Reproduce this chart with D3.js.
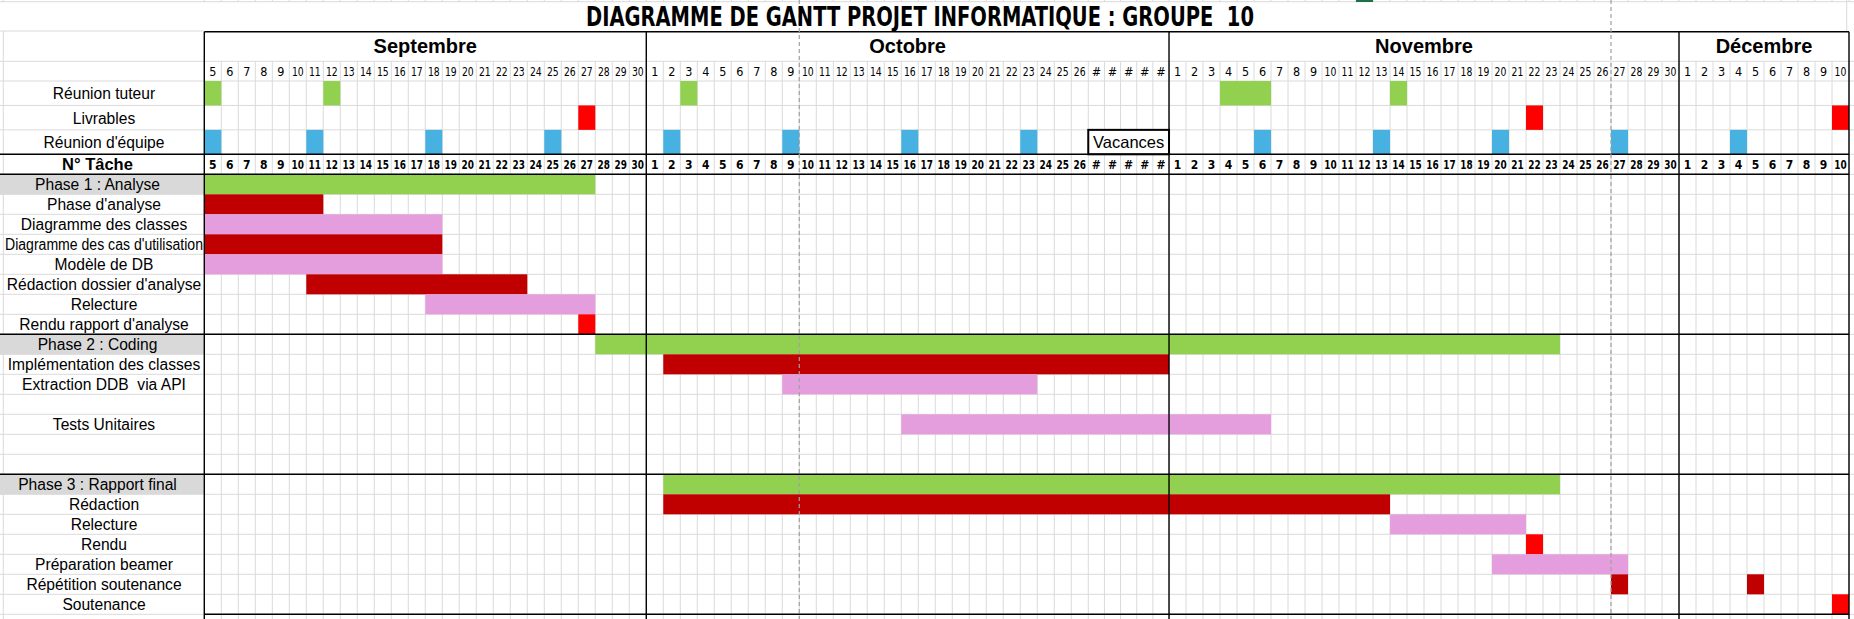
<!DOCTYPE html>
<html><head><meta charset="utf-8">
<script src="https://cdn.jsdelivr.net/npm/d3@7"></script>
<style>
html,body{margin:0;padding:0;background:#fff;overflow:hidden}
svg{display:block}
text{white-space:pre}
</style></head><body>
<svg id="chart" width="1854" height="619"></svg>
<script>
// ================= DATA =================
const title = "DIAGRAMME DE GANTT PROJET INFORMATIQUE : GROUPE  10";
const months = ["Septembre", "Octobre", "Novembre", "Décembre"];
const monthFirstDay = [5, 1, 1, 1];
const monthLastDay = [30, 31, 30, 10];
// days whose column is too narrow: Excel shows "#"
const hashDays = ["Octobre-27", "Octobre-28", "Octobre-29", "Octobre-30", "Octobre-31"];
const pageBreaks = ["Octobre-10", "Novembre-27"];

const eventRows = ["Réunion tuteur", "Livrables", "Réunion d'équipe"];
const reunionTuteur = ["Septembre-5", "Septembre-12", "Octobre-3", "Novembre-4", "Novembre-5", "Novembre-6", "Novembre-14"];
const livrables = ["Septembre-27", "Novembre-22", "Décembre-10"];
const reunionEquipe = ["Septembre-5", "Septembre-11", "Septembre-18", "Septembre-25", "Octobre-2", "Octobre-9",
  "Octobre-16", "Octobre-23", "Novembre-6", "Novembre-13", "Novembre-20", "Novembre-27", "Décembre-4"];
const vacancesLabel = "Vacances";
const vacancesSpan = ["Octobre-27", "Octobre-31"];

const taskHeader = "N° Tâche";
const taskLabels = ["Phase 1 : Analyse", "Phase d'analyse", "Diagramme des classes", "Diagramme des cas d'utilisation",
  "Modèle de DB", "Rédaction dossier d'analyse", "Relecture", "Rendu rapport d'analyse",
  "Phase 2 : Coding", "Implémentation des classes", "Extraction DDB  via API", "", "Tests Unitaires", "", "",
  "Phase 3 : Rapport final", "Rédaction", "Relecture", "Rendu", "Préparation beamer", "Répétition soutenance", "Soutenance"];
const phaseRows = [0, 8, 15];

const barRow   = [0, 1, 2, 3, 4, 5, 6, 7, 8, 9, 10, 12, 15, 16, 17, 18, 19, 20, 20, 21];
const barStart = ["Septembre-5", "Septembre-5", "Septembre-5", "Septembre-5", "Septembre-5", "Septembre-11",
  "Septembre-18", "Septembre-27", "Septembre-28", "Octobre-2", "Octobre-9", "Octobre-16", "Octobre-2", "Octobre-2",
  "Novembre-14", "Novembre-22", "Novembre-20", "Novembre-27", "Décembre-5", "Décembre-10"];
const barEnd   = ["Septembre-27", "Septembre-11", "Septembre-18", "Septembre-18", "Septembre-18", "Septembre-23",
  "Septembre-27", "Septembre-27", "Novembre-23", "Octobre-31", "Octobre-23", "Novembre-6", "Novembre-23", "Novembre-13",
  "Novembre-21", "Novembre-22", "Novembre-27", "Novembre-27", "Décembre-5", "Décembre-10"];
const barKind  = ["phase", "work", "review", "work", "review", "work", "review", "deadline", "phase", "work", "review",
  "review", "phase", "work", "review", "deadline", "review", "work", "work", "deadline"];

// ================= STYLE / LAYOUT =================
const W = 1854, H = 619;
const colors = { phase: "#92D050", work: "#C00000", review: "#E49EDD", deadline: "#FF0000",
  tuteur: "#92D050", livrable: "#FF0000", equipe: "#47B1E2" };
const GRID = "#DADADA";
const SANS = "'Liberation Sans', Arial, sans-serif";
const NARROW = "'Liberation Sans Narrow', 'Arial Narrow', 'DejaVu Sans Condensed', sans-serif";

const X0 = 204.3, X1 = 1849, LABEL_L = 3.3;
const yTop = 1.7, yTitleB = 31.7, yMonthB = 61.3, yDayB = 81, yEventB = 154.3, yHeadB = 174.3, yBottom = 614.3;

// day keys
const dayKeys = [], dayNum = [], dayMonth = [];
months.forEach((m, i) => {
  for (let d = monthFirstDay[i]; d <= monthLastDay[i]; d++) { dayKeys.push(m + "-" + d); dayNum.push(d); dayMonth.push(m); }
});
const units = dayKeys.map(k => hashDays.includes(k) ? 0.95 : 1);
const cum = d3.cumsum(units);
const xs = d3.scaleLinear().domain([0, cum[cum.length - 1]]).range([X0, X1]);
const idx = new Map(dayKeys.map((k, i) => [k, i]));
const left = k => xs(cum[idx.get(k)] - units[idx.get(k)]);
const right = k => xs(cum[idx.get(k)]);

const yEv = d3.scaleBand().domain(eventRows).range([yDayB, yEventB]);
const yTask = d3.scaleBand().domain(d3.range(taskLabels.length)).range([yHeadB, yBottom]);

const svg = d3.select("#chart");
svg.append("rect").attr("width", W).attr("height", H).attr("fill", "#fff");

// phase label backgrounds
svg.append("g").selectAll("rect").data(phaseRows).join("rect")
  .attr("x", 0).attr("width", X0).attr("y", r => yTask(r)).attr("height", yTask.bandwidth())
  .attr("fill", "#D9D9D9");

// ---------- grid ----------
const grid = svg.append("g").attr("stroke", GRID).attr("stroke-width", 1).attr("fill", "none");
const colEdges = dayKeys.map(left).concat([X1]);
colEdges.forEach(x => {
  grid.append("line").attr("x1", x).attr("x2", x).attr("y1", yMonthB).attr("y2", H);
  grid.append("line").attr("x1", x).attr("x2", x).attr("y1", 0).attr("y2", yTop);
});
grid.append("line").attr("x1", LABEL_L).attr("x2", LABEL_L).attr("y1", 31).attr("y2", H);
grid.append("line").attr("x1", LABEL_L).attr("x2", LABEL_L).attr("y1", 0).attr("y2", yTop);
grid.append("line").attr("x1", 1846.7).attr("x2", 1846.7).attr("y1", 0).attr("y2", yTitleB);
const hLines = [yTop, yMonthB, yDayB]
  .concat(eventRows.map(e => yEv(e) + yEv.bandwidth()))
  .concat([yHeadB])
  .concat(d3.range(taskLabels.length).map(r => yTask(r) + yTask.bandwidth()));
hLines.forEach(y => grid.append("line").attr("x1", 0).attr("x2", W).attr("y1", y).attr("y2", y));
grid.append("line").attr("x1", 0).attr("x2", X0).attr("y1", 31).attr("y2", 31);

// excel active-column marker
svg.append("rect").attr("x", left("Novembre-12")).attr("width", right("Novembre-12") - left("Novembre-12"))
  .attr("y", 0).attr("height", 2).attr("fill", "#1E7145");

// ---------- event cells ----------
const evData = [].concat(
  reunionTuteur.map(d => ({ row: "Réunion tuteur", d, c: colors.tuteur })),
  livrables.map(d => ({ row: "Livrables", d, c: colors.livrable })),
  reunionEquipe.map(d => ({ row: "Réunion d'équipe", d, c: colors.equipe })));
svg.append("g").selectAll("rect").data(evData).join("rect")
  .attr("x", e => left(e.d)).attr("width", e => right(e.d) - left(e.d))
  .attr("y", e => yEv(e.row)).attr("height", yEv.bandwidth())
  .attr("fill", e => e.c);

// ---------- task bars ----------
const bars = barRow.map((r, i) => ({ r, s: barStart[i], e: barEnd[i], k: barKind[i] }));
svg.append("g").selectAll("rect").data(bars).join("rect")
  .attr("x", b => left(b.s)).attr("width", b => right(b.e) - left(b.s))
  .attr("y", b => yTask(b.r)).attr("height", yTask.bandwidth())
  .attr("fill", b => colors[b.k]);

// ---------- vacances box ----------
const vx0 = left(vacancesSpan[0]), vx1 = right(vacancesSpan[1]);
const vy0 = yEv("Réunion d'équipe"), vy1 = yEventB;
svg.append("rect").attr("x", vx0).attr("y", vy0).attr("width", vx1 - vx0).attr("height", vy1 - vy0)
  .attr("fill", "#fff").attr("stroke", "#000").attr("stroke-width", 2);
svg.append("text").attr("x", (vx0 + vx1) / 2).attr("y", vy1 - 6).attr("text-anchor", "middle")
  .attr("font-family", SANS).attr("font-size", 16.5).attr("fill", "#000").text(vacancesLabel);

// ---------- black borders ----------
const blk = svg.append("g").attr("stroke", "#000").attr("stroke-width", 1.4);
blk.append("line").attr("x1", X0).attr("x2", X1).attr("y1", yTitleB).attr("y2", yTitleB);
[yEventB, yHeadB, yTask(8), yTask(15)].forEach(y =>
  blk.append("line").attr("x1", 0).attr("x2", X1).attr("y1", y).attr("y2", y));
blk.append("line").attr("x1", X0).attr("x2", X1).attr("y1", yBottom).attr("y2", yBottom);
const monthEdges = [X0].concat(months.slice(1).map((m, i) => left(m + "-" + monthFirstDay[i + 1]))).concat([X1]);
monthEdges.forEach(x => blk.append("line").attr("x1", x).attr("x2", x).attr("y1", yTitleB).attr("y2", H));

// ---------- page breaks ----------
pageBreaks.forEach(k => svg.append("line").attr("x1", left(k)).attr("x2", left(k)).attr("y1", 0).attr("y2", H)
  .attr("stroke", "#A0A0A0").attr("stroke-width", 1.2).attr("stroke-dasharray", "4,3"));

// ---------- texts ----------
const T = svg.append("g").attr("fill", "#000");
T.append("text").attr("x", 920).attr("y", 26).attr("text-anchor", "middle")
  .attr("font-family", NARROW).attr("font-weight", "bold").attr("font-size", 26)
  .attr("textLength", 668).attr("lengthAdjust", "spacingAndGlyphs").text(title);

months.forEach((m, i) => {
  const a = left(m + "-" + monthFirstDay[i]), b = right(m + "-" + monthLastDay[i]);
  T.append("text").attr("x", (a + b) / 2).attr("y", 53.3).attr("text-anchor", "middle")
    .attr("font-family", SANS).attr("font-weight", "bold").attr("font-size", 20).text(m);
});

const dayLabel = (k, i) => hashDays.includes(k) ? "#" : String(dayNum[i]);
function clampWidth(sel, maxW) {
  sel.each(function () {
    const w = typeof maxW === "function" ? maxW(d3.select(this).datum()) : maxW;
    if (this.getComputedTextLength() > w) d3.select(this).attr("textLength", w).attr("lengthAdjust", "spacingAndGlyphs");
  });
}
const dayTop = T.append("g").selectAll("text").data(dayKeys).join("text")
  .attr("x", k => (left(k) + right(k)) / 2).attr("y", 76.2).attr("text-anchor", "middle")
  .attr("font-family", NARROW).attr("font-size", 12.5).text(dayLabel);
clampWidth(dayTop, 11.8);
const dayHead = T.append("g").selectAll("text").data(dayKeys).join("text")
  .attr("x", k => (left(k) + right(k)) / 2).attr("y", 169).attr("text-anchor", "middle")
  .attr("font-family", NARROW).attr("font-weight", "bold").attr("font-size", 12).text(dayLabel);
clampWidth(dayHead, 12.4);

const LABEL_CX = 104;
T.append("g").selectAll("text").data(eventRows).join("text")
  .attr("x", LABEL_CX).attr("y", e => yEv(e) + yEv.bandwidth() / 2 + 6).attr("text-anchor", "middle")
  .attr("font-family", SANS).attr("font-size", 15.6).text(e => e);

T.append("text").attr("x", 97.5).attr("y", yEventB + 15.7).attr("text-anchor", "middle")
  .attr("font-family", SANS).attr("font-weight", "bold").attr("font-size", 16.5).text(taskHeader);

const labs = T.append("g").selectAll("text").data(taskLabels.map((t, i) => ({ t, i })).filter(d => d.t)).join("text")
  .attr("x", d => phaseRows.includes(d.i) ? 97.5 : LABEL_CX)
  .attr("y", d => yTask(d.i) + yTask.bandwidth() / 2 + 5.7).attr("text-anchor", "middle")
  .attr("font-family", SANS).attr("font-size", 15.6).text(d => d.t);
clampWidth(labs, 198);
</script>
</body></html>
